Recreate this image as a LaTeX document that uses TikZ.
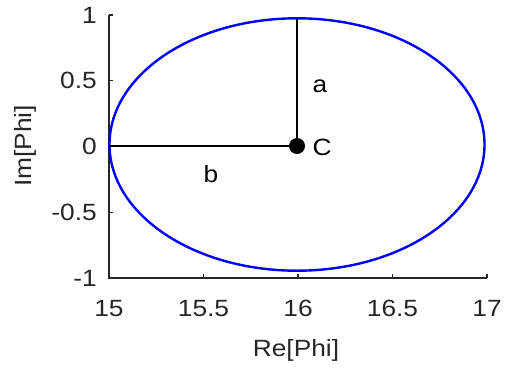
\documentclass[tikz,border=0pt]{standalone}
\usepackage{fontspec}
\setmainfont[FakeStretch=1.12]{Liberation Sans}
\definecolor{axgray}{HTML}{262626}
\definecolor{ellblue}{RGB}{0,0,255}
\begin{document}
\begin{tikzpicture}[x=1pt,y=-1pt,
  axisline/.style={draw=axgray,line width=1.1pt},
  ticklbl/.style={text=axgray,font=\fontsize{23.5}{23.5}\selectfont,inner sep=0pt},
  annot/.style={text=black,font=\fontsize{23.5}{23.5}\selectfont,inner sep=0pt},
  refline/.style={draw=black,line width=2.2pt},
  curve/.style={draw=ellblue,line width=2.4pt}]
\useasboundingbox (0,0) rectangle (505,367);
% axes
\coordinate (O) at (109,278);
\coordinate (XE) at (487,278);
\coordinate (YE) at (109,15);
\draw[axisline] (YE) -- (O) -- (XE);
% x ticks
\foreach \v/\px in {15/109,15.5/203.5,16/298,16.5/392.5,17/487}{
  \draw[axisline] (\px,278) -- (\px,274);
  \node[ticklbl,anchor=base] at (\px,316) {\v};
}
% y ticks
\foreach \v/\py in {1/15,0.5/80.75,0/146.5,-0.5/212.25,-1/278}{
  \draw[axisline] (109,\py) -- (113,\py);
  \node[ticklbl,anchor=east] at (97,\py) {\v};
}
\node[ticklbl,anchor=base] (xl) at (296,356) {Re[Phi]};
\node[ticklbl,rotate=90] (yl) at (25,146) {Im[Phi]};
% ellipse
\draw[curve] (297,144.5) ellipse [x radius=187.5, y radius=126.2];
% lines
\coordinate (C) at (297,146);
\coordinate (L) at (109,146);
\coordinate (T) at (297,18.5);
\draw[refline] (L) -- (C);
\draw[refline] (C) -- (T);
\fill[black] (C) circle (8);
\node[annot] (Cl) at (322,147) {C};
\node[annot] (al) at (320,86) {a};
\node[annot] (bl) at (211,174) {b};
\end{tikzpicture}
\end{document}
